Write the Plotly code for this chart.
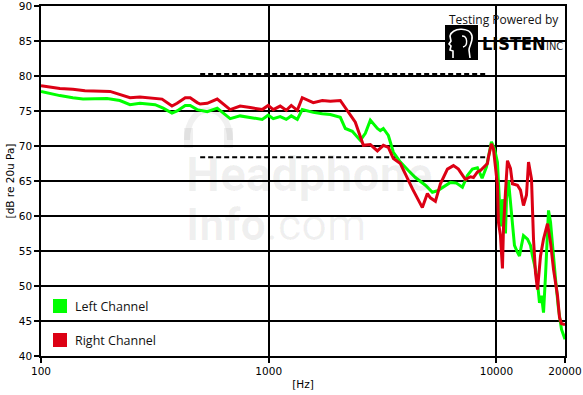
import plotly.graph_objects as go

# ---------------- data ----------------
left_freq = [100, 121, 138, 153, 195, 222, 246, 272, 317, 344, 376, 396, 430, 452, 485, 500, 537,
             594, 677, 749, 829, 936, 995, 1047, 1123, 1194, 1256, 1335, 1404, 1569, 1719, 1864,
             2062, 2170, 2328, 2525, 2656, 2794, 3000, 3091, 3186, 3352, 3527, 3785, 4104, 4406,
             4874, 5233, 5505, 5848, 6279, 6672, 7088, 7456, 7844, 8251, 8650, 9036, 9316, 9506,
             9799, 10101, 10309, 10520, 10626, 10735, 10955, 11066, 11291, 11522, 11758, 11998,
             12369, 12622, 12881, 13145, 13689, 14112, 14397, 14841, 15146, 15455, 15772, 16095,
             16424, 16760, 16931, 17278, 17631, 18170, 18730, 19306, 20000]
left_db = [77.8, 77.2, 76.9, 76.7, 76.8, 76.5, 75.9, 76.1, 75.9, 75.4, 74.7, 75.0, 75.8, 75.8, 75.2, 75.1, 74.9,
           75.4, 73.9, 74.3, 74.1, 73.8, 74.4, 73.9, 74.2, 73.8, 74.3, 73.8, 75.2, 74.8, 74.6, 74.5,
           74.1, 72.5, 72.1, 70.8, 71.8, 73.7, 72.5, 72.2, 72.5, 71.5, 69.1, 67.7, 66.5, 65.5,
           64.4, 63.4, 63.6, 64.1, 64.8, 64.7, 64.1, 65.8, 66.7, 66.9, 65.4, 67.0, 69.3, 70.6,
           69.6, 67.7, 62.0, 58.5, 62.4, 61.5, 57.5, 62.4, 65.1, 62.0, 58.6, 55.8,
           54.8, 54.3, 55.8, 57.2, 56.7, 55.8, 54.3, 52.4, 50.5, 47.6, 48.6, 46.2,
           51.5, 57.2, 60.8, 59.1, 55.3, 51.0, 46.7, 43.8, 42.4]

right_freq = [100, 121, 138, 156, 201, 222, 246, 272, 311, 340, 376, 396, 430, 452, 485, 500, 537,
              594, 677, 749, 829, 936, 995, 1047, 1123, 1194, 1256, 1335, 1404, 1569, 1719, 1864,
              2062, 2214, 2400, 2603, 2794, 3000, 3186, 3352, 3527, 3785, 3981, 4273, 4728, 4974,
              5128, 5394, 5675, 6091, 6473, 6808, 7307, 7687, 7924, 8251, 8505, 8768, 9128, 9221,
              9506, 9700, 10101, 10205, 10414, 10626, 10735, 10955, 11178, 11522, 11758, 12369,
              12751, 13145, 13551, 13829, 14253, 14544, 14841, 15146, 15300, 15613, 16095, 16760,
              17278, 17806, 18541, 18919, 19306, 20000]
right_db = [78.6, 78.2, 78.1, 77.9, 77.8, 77.4, 76.9, 77.0, 76.8, 76.7, 75.7, 76.1, 76.9, 76.9, 76.2, 76.0, 76.1,
            76.7, 75.2, 75.7, 75.5, 75.2, 75.8, 75.2, 75.7, 75.1, 75.8, 75.1, 76.9, 76.2, 76.5, 76.4,
            76.5, 75.1, 73.4, 70.1, 70.2, 69.3, 70.1, 69.8, 68.2, 67.5, 66.0, 63.9, 61.2, 63.2,
            62.6, 62.1, 64.6, 66.7, 67.2, 66.7, 65.2, 65.6, 65.5, 66.3, 66.5, 67.0, 67.5, 68.4,
            70.3, 69.6, 64.4, 59.1, 57.2, 52.5, 58.2, 63.4, 67.9, 66.8, 64.6, 64.4,
            63.7, 61.5, 63.0, 67.7, 65.3, 56.7, 51.9, 49.5, 51.0, 54.3, 56.7, 58.9,
            56.2, 52.4, 48.6, 45.5, 44.6, 44.5]

ref_freq = [500, 9000]
ref_levels = [80.3, 68.4]

x_ticks = [100, 1000, 10000, 20000]
x_ticktext = ["100", "1000", "10000", "20000"]
y_ticks = [40, 45, 50, 55, 60, 65, 70, 75, 80, 85, 90]

series_names = ["Left Channel", "Right Channel"]
GREEN = "#00ff00"
RED = "#dc0014"

# ---------------- layout helpers (pixel -> paper) ----------------
L, R, T, B = 41, 565, 6, 356
def px(x):
    return (x - L) / (R - L)
def py(y):
    return (B - y) / (B - T)

fig = go.Figure()

for lvl in ref_levels:
    fig.add_trace(go.Scatter(x=ref_freq, y=[lvl, lvl], mode="lines",
                             line=dict(color="black", width=2, dash="5px,3px"),
                             hoverinfo="skip", showlegend=False))

fig.add_trace(go.Scatter(x=left_freq, y=left_db, mode="lines", name=series_names[0],
                         line=dict(color=GREEN, width=3), showlegend=False))
fig.add_trace(go.Scatter(x=right_freq, y=right_db, mode="lines", name=series_names[1],
                         line=dict(color=RED, width=3), showlegend=False))

shapes = []
annotations = []

# watermark (very light, under grid)
wm = "rgba(0,0,0,0.06)"
shapes.append(dict(type="path", xref="paper", yref="paper", layer="below",
                   path=f"M {px(187)},{py(140)} C {px(187)},{py(100)} {px(230)},{py(100)} {px(230)},{py(140)}",
                   line=dict(color=wm, width=6)))
shapes.append(dict(type="rect", xref="paper", yref="paper", layer="below",
                   x0=px(184), x1=px(193), y0=py(148), y1=py(128), fillcolor=wm, line=dict(width=0)))
shapes.append(dict(type="rect", xref="paper", yref="paper", layer="below",
                   x0=px(224), x1=px(233), y0=py(148), y1=py(128), fillcolor=wm, line=dict(width=0)))
annotations.append(dict(xref="paper", yref="paper", x=px(184), y=py(174), xanchor="left", yanchor="middle",
                        text="<b>Headphone</b>", showarrow=False,
                        font=dict(family="Roboto", size=48, color=wm)))
annotations.append(dict(xref="paper", yref="paper", x=px(184), y=py(225), xanchor="left", yanchor="middle",
                        text="<b>Info</b>.com", showarrow=False,
                        font=dict(family="Roboto", size=45, color=wm)))

# legend
for name, col, yc in [(series_names[0], GREEN, 306), (series_names[1], RED, 340)]:
    shapes.append(dict(type="rect", xref="paper", yref="paper", x0=px(53), x1=px(67),
                       y0=py(yc + 7), y1=py(yc - 7), fillcolor=col, line=dict(width=0)))
    annotations.append(dict(xref="paper", yref="paper", x=px(73), y=py(yc), xanchor="left",
                            yanchor="middle", text=name, showarrow=False,
                            font=dict(family="Open Sans", size=12.5, color="#111")))

# logo
annotations.append(dict(xref="paper", yref="paper", x=px(504), y=py(19), xanchor="center", yanchor="middle",
                        text="Testing Powered by", showarrow=False,
                        font=dict(family="Open Sans", size=12, color="#111")))
shapes.append(dict(type="rect", xref="paper", yref="paper", x0=px(445), x1=px(478),
                   y0=py(60), y1=py(25), fillcolor="black", line=dict(width=0)))
head = (f"M {px(453)},{py(58)} L {px(453)},{py(51)} L {px(450)},{py(50)} L {px(451)},{py(46)} "
        f"L {px(449)},{py(44)} L {px(451)},{py(41)} L {px(450)},{py(36)} "
        f"C {px(451)},{py(28)} {px(470)},{py(26)} {px(472)},{py(36)} "
        f"C {px(473)},{py(42)} {px(469)},{py(46)} {px(469)},{py(50)} L {px(470)},{py(58)}")
shapes.append(dict(type="path", xref="paper", yref="paper", path=head,
                   line=dict(color="white", width=1.6)))
shapes.append(dict(type="path", xref="paper", yref="paper",
                   path=f"M {px(462)},{py(36)} C {px(468)},{py(36)} {px(468)},{py(46)} {px(463)},{py(47)}",
                   line=dict(color="white", width=1.4)))
annotations.append(dict(xref="paper", yref="paper", x=px(480), y=py(43), xanchor="left", yanchor="middle",
                        text="<b>LISTEN</b>", showarrow=False,
                        font=dict(family="Liberation Sans Narrow, DejaVu Sans Condensed", size=18, color="black")))
annotations.append(dict(xref="paper", yref="paper", x=px(544), y=py(46), xanchor="left", yanchor="middle",
                        text="INC", showarrow=False,
                        font=dict(family="Liberation Sans Narrow, DejaVu Sans Condensed", size=11, color="#222")))

fig.update_layout(
    width=583, height=395,
    margin=dict(l=L, r=583 - R, t=T, b=395 - B, autoexpand=False),
    paper_bgcolor="white", plot_bgcolor="white",
    showlegend=False,
    shapes=shapes, annotations=annotations,
    font=dict(family="DejaVu Sans", size=10.5, color="black"),
)
fig.update_xaxes(type="log", range=[2, 4.30103], tickvals=x_ticks, ticktext=x_ticktext,
                 automargin=False, ticklabeloverflow="allow",
                 showgrid=True, gridcolor="black", gridwidth=1.5,
                 showline=True, linecolor="black", linewidth=1.5, mirror=True,
                 ticks="outside", ticklen=5, tickcolor="black", tickwidth=1.5,
                 zeroline=False,
                 title=dict(text="[Hz]", font=dict(size=10.5), standoff=4))
fig.update_yaxes(range=[40, 90], tickvals=y_ticks, automargin=False, ticklabeloverflow="allow",
                 showgrid=True, gridcolor="black", gridwidth=1.5,
                 showline=True, linecolor="black", linewidth=1.5, mirror=True,
                 ticks="outside", ticklen=5, tickcolor="black", tickwidth=1.5,
                 zeroline=False,
                 title=dict(text="[dB re 20u Pa]", font=dict(size=10.5), standoff=2))

fig.write_html("out.html")
